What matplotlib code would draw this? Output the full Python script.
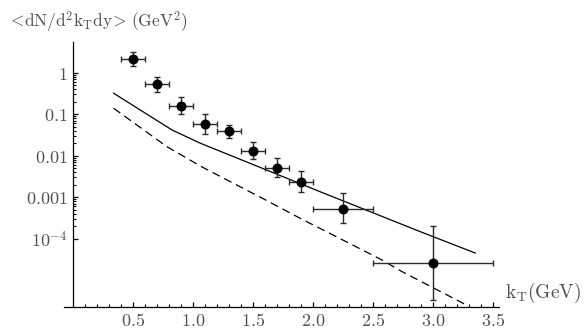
import matplotlib
matplotlib.use("Agg")
import matplotlib.pyplot as plt
from matplotlib.ticker import FixedLocator

plt.rcParams["mathtext.fontset"] = "cm"

# data points (kT in GeV, yield in GeV^-2)
kt = [0.5, 0.7, 0.9, 1.1, 1.3, 1.5, 1.7, 1.9, 2.25, 3.0]
kt_err = [0.1, 0.1, 0.1, 0.1, 0.1, 0.1, 0.1, 0.1, 0.25, 0.5]
dn = [2.1, 0.53, 0.16, 0.057, 0.039, 0.013, 0.0051, 0.0023, 5.3e-4, 2.6e-5]
dn_hi = [3.15, 0.8, 0.26, 0.1, 0.056, 0.021, 0.009, 0.0043, 0.00123, 2.05e-4]
dn_lo = [1.45, 0.34, 0.1, 0.034, 0.027, 0.0083, 0.003, 0.0013, 2.4e-4, 3.4e-6]

# model curves
kt_solid = [0.336, 0.823, 1.058, 1.558, 2.058, 2.89, 3.35]
solid = [0.32, 0.0416, 0.02, 0.0052, 0.00135, 1.48e-4, 4.5e-5]
kt_dash = [0.336, 0.78, 1.07, 1.585, 1.89, 2.56, 2.74, 3.29]
dashed = [0.139, 0.0165, 0.0054, 9.1e-4, 3.1e-4, 3.2e-5, 1.6e-5, 2.4e-6]

x_ticks = [0.5, 1.0, 1.5, 2.0, 2.5, 3.0, 3.5]
x_labels = ["0.5", "1.0", "1.5", "2.0", "2.5", "3.0", "3.5"]
y_ticks = [1, 0.1, 0.01, 0.001, 1e-4]
y_labels = ["$1$", "$0.1$", "$0.01$", "$0.001$", "$10^{-4}$"]

txt = "#505050"

fig = plt.figure(figsize=(5.85, 3.31), dpi=100)
ax = fig.add_axes([0.1089, 0.0734, 0.7446, 0.7997])
ax.set_yscale("log")

ax.plot(kt_solid, solid, color="black", lw=0.9)
ax.plot(kt_dash, dashed, color="black", lw=0.9, dashes=(6.5, 4))

yerr = [[d - lo for d, lo in zip(dn, dn_lo)], [hi - d for d, hi in zip(dn, dn_hi)]]
ax.errorbar(kt, dn, xerr=kt_err, yerr=yerr, fmt="o", color="black",
            ms=6.2, ecolor="#2a2a2a", elinewidth=1.0, capsize=2.3, capthick=1.0)

ax.set_xlim(-0.08, 3.55)
ax.set_ylim(10 ** -5.64, 10 ** 0.74)

for s in ["top", "right"]:
    ax.spines[s].set_visible(False)
ax.spines["left"].set_position(("data", 0))
ax.spines["left"].set_linewidth(0.9)
ax.spines["bottom"].set_linewidth(0.9)
# y axis pokes a little below the x axis
ax.plot([0, 0], [-0.02, 0], transform=ax.get_yaxis_transform(),
        color="black", lw=0.9, clip_on=False)

ax.set_xticks(x_ticks)
ax.set_xticklabels(["$" + s + "$" for s in x_labels])
ax.xaxis.set_minor_locator(FixedLocator([i / 10 for i in range(1, 36)]))
ax.set_yticks(y_ticks)
ax.set_yticklabels(y_labels)
ax.yaxis.set_minor_locator(FixedLocator([k * 10.0 ** d for d in (-4, -3, -2, -1) for k in range(2, 10)]))

ax.tick_params(axis="both", which="major", direction="in", length=3.8, width=0.9,
               labelsize=13, labelcolor=txt)
ax.tick_params(axis="both", which="minor", direction="in", length=2.2, width=0.8)
ax.tick_params(axis="x", which="major", pad=4)
ax.tick_params(axis="y", which="major", pad=4)

fig.text(7 / 585, 1 - 22 / 331,
         r"$<\!\mathrm{dN/d^2k_Tdy}\!>\,\mathrm{(GeV^2)}$",
         fontsize=12.5, color=txt, va="center", ha="left")
fig.text(505 / 585, 1 - 293 / 331, r"$\mathrm{k_T(GeV)}$",
         fontsize=14, color=txt, va="center", ha="left")

fig.savefig("out.png", dpi=100)
